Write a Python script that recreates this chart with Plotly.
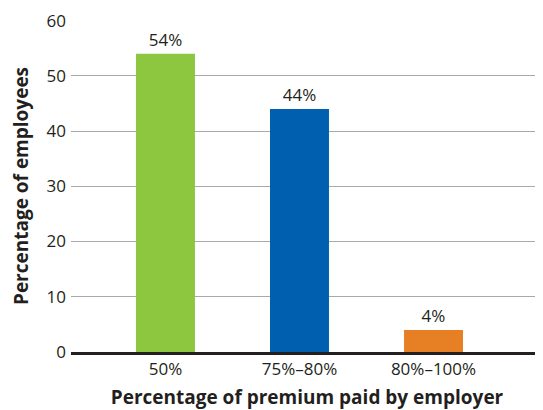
import plotly.graph_objects as go

categories = ["50%", "75%–80%", "80%–100%"]
values = [54, 44, 4]
labels = ["54%", "44%", "4%"]
colors = ["#8dc63f", "#0060af", "#e78025"]
y_ticks = [0, 10, 20, 30, 40, 50, 60]

fig = go.Figure(go.Bar(
    x=categories, y=values, text=labels, textposition="outside",
    marker=dict(color=colors, line=dict(width=0)), width=0.44,
    textfont=dict(size=17, color="#231f20", family="Open Sans"),
    cliponaxis=False,
))

# page body has an 8px margin, so the figure is sized 8px smaller
fig.update_layout(
    width=535, height=402,
    margin=dict(l=63, r=0, t=12, b=58),
    plot_bgcolor="white", paper_bgcolor="white",
    font=dict(family="Open Sans", color="#231f20", size=17),
    showlegend=False,
    xaxis=dict(
        range=[-0.705, 2.817], showgrid=False, automargin=False,
        showline=True, linecolor="#231f20", linewidth=3,
        ticks="", tickfont=dict(size=17),
        title=dict(text="<b>Percentage of premium paid by employer</b>", font=dict(size=19), standoff=12),
    ),
    yaxis=dict(
        range=[0, 60.1], tickvals=y_ticks, showgrid=True, gridcolor="#a7a9ac", gridwidth=1,
        zeroline=False, showline=False, ticks="", tickfont=dict(size=17), ticklabelstandoff=4,
        automargin=False,
        title=dict(text="<b>Percentage of employees</b>", font=dict(size=19), standoff=17),
    ),
)

fig.write_html("out.html")
